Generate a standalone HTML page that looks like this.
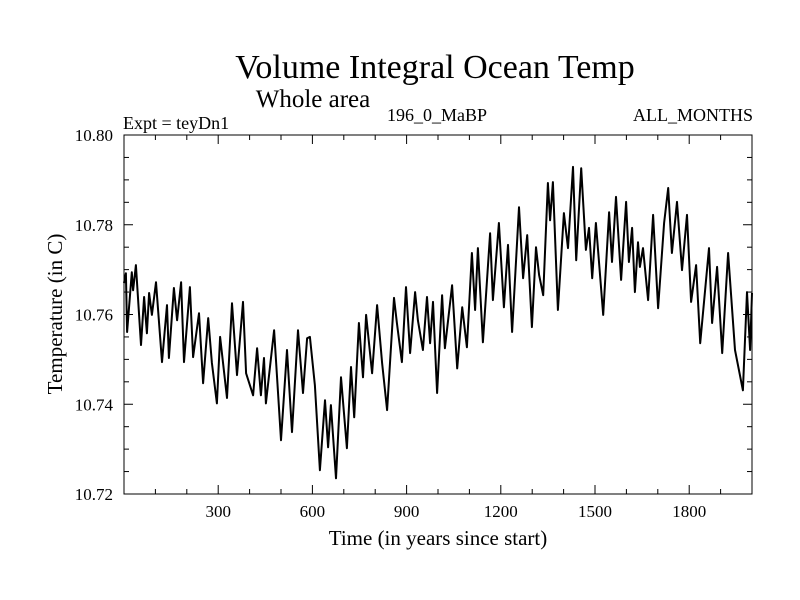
<!DOCTYPE html>
<html><head><meta charset="utf-8"><style>
body{margin:0;background:#fff}
svg{display:block;font-family:"Liberation Serif",serif}
</style></head><body>
<svg id="chart" width="800" height="600" viewBox="0 0 800 600" xmlns="http://www.w3.org/2000/svg">
<rect width="800" height="600" fill="#fff"/>
<text x="435" y="78" font-size="34" text-anchor="middle">Volume Integral Ocean Temp</text>
<text x="313" y="107" font-size="25" text-anchor="middle">Whole area</text>
<text x="123" y="129" font-size="18">Expt = teyDn1</text>
<text x="437" y="121" font-size="18" text-anchor="middle">196_0_MaBP</text>
<text x="753" y="121" font-size="18" text-anchor="end">ALL_MONTHS</text>
<text x="438" y="545" font-size="21" text-anchor="middle">Time (in years since start)</text>
<text transform="translate(62,314) rotate(-90)" font-size="21" text-anchor="middle">Temperature (in C)</text>
<g id="axes"></g>
<path id="series" fill="none" stroke="#000" stroke-width="2" stroke-linejoin="round"/>
<rect x="124" y="135" width="628" height="359" fill="none" stroke="#000" stroke-width="1"/>
</svg>
<script>
const years=[0,6,10,25,29,38,54,64,73,80,89,102,121,137,143,159,169,182,191,210,220,239,252,268,280,296,306,328,344,360,379,389,411,424,436,446,452,478,500,519,535,554,570,583,592,608,624,640,650,659,675,691,710,723,733,748,761,771,790,806,822,838,860,869,885,898,911,927,936,952,965,975,984,997,1013,1022,1045,1061,1077,1092,1108,1118,1127,1143,1166,1175,1194,1210,1223,1236,1258,1271,1284,1299,1312,1322,1335,1350,1357,1366,1382,1401,1414,1430,1440,1456,1471,1481,1491,1503,1526,1545,1554,1567,1583,1599,1608,1618,1627,1637,1643,1653,1669,1685,1701,1720,1733,1745,1761,1777,1793,1806,1822,1835,1863,1873,1889,1905,1924,1946,1971,1984,1994,2000];
const temps=[10.767,10.7692,10.7561,10.7694,10.7654,10.771,10.7532,10.7639,10.7558,10.7648,10.7599,10.7672,10.7494,10.7621,10.7503,10.7659,10.7587,10.7672,10.7494,10.7661,10.7505,10.7603,10.7447,10.7592,10.7492,10.7402,10.755,10.7414,10.7625,10.7465,10.7628,10.7469,10.742,10.7525,10.742,10.7503,10.7402,10.7565,10.732,10.7521,10.7338,10.7565,10.7425,10.7547,10.755,10.7442,10.7253,10.7409,10.7304,10.7398,10.7235,10.746,10.7302,10.7483,10.7371,10.7581,10.746,10.7599,10.7469,10.7621,10.7492,10.7387,10.7637,10.7581,10.7494,10.7661,10.7514,10.765,10.7587,10.7521,10.7639,10.7536,10.7628,10.7425,10.7643,10.7525,10.7665,10.748,10.7616,10.7527,10.7737,10.761,10.7748,10.7538,10.7781,10.7632,10.7804,10.7616,10.7755,10.7561,10.7839,10.7681,10.7777,10.7572,10.775,10.7688,10.7643,10.7893,10.781,10.7895,10.761,10.7826,10.7748,10.7929,10.7721,10.7926,10.7744,10.7793,10.7681,10.7804,10.7599,10.7828,10.7717,10.7862,10.7677,10.7851,10.7717,10.7793,10.765,10.7761,10.7706,10.7748,10.7632,10.7822,10.7614,10.7804,10.7882,10.7737,10.7851,10.7699,10.7822,10.7628,10.771,10.7536,10.7748,10.7581,10.7706,10.7514,10.7737,10.7521,10.7431,10.765,10.7521,10.7648];
const xTickLabels=[300,600,900,1200,1500,1800];
const yTickLabels=["10.72","10.74","10.76","10.78","10.80"];
const X0=124,X1=752,Y0=494,Y1=135,XMIN=0,XMAX=2000,YMIN=10.72,YMAX=10.80;
function xs(v){return X0+(v-XMIN)/(XMAX-XMIN)*(X1-X0);}
function ys(v){return Y0-(v-YMIN)/(YMAX-YMIN)*(Y0-Y1);}
const NS="http://www.w3.org/2000/svg";
const axes=document.getElementById('axes');
function line(x1,y1,x2,y2,name){const l=document.createElementNS(NS,'line');
l.setAttribute('x1',x1);l.setAttribute('y1',y1);l.setAttribute('x2',x2);l.setAttribute('y2',y2);
l.setAttribute('stroke','#000');l.setAttribute('stroke-width','1');


axes.appendChild(l);}
function text(x,y,s,anchor,name){const t=document.createElementNS(NS,'text');
t.setAttribute('x',x);t.setAttribute('y',y);t.setAttribute('font-size','17');t.setAttribute('text-anchor',anchor);t.textContent=s;


axes.appendChild(t);}
for(let v=100;v<XMAX;v+=100){const x=xs(v);const L=(v%300===0)?9:5;
line(x,Y0,x,Y0-L,'x-tick');line(x,Y1,x,Y1+L,'x-tick-top');}
xTickLabels.forEach(v=>text(xs(v),517,String(v),'middle','x-tick-label'));
for(let i=1;i<16;i++){const v=YMIN+i*0.005;const y=ys(v);const L=(i%4===0)?9:5;
line(X0,y,X0+L,y,'y-tick');line(X1,y,X1-L,y,'y-tick-right');}
yTickLabels.forEach(s=>text(113,ys(parseFloat(s))+6,s,'end','y-tick-label'));
let d='';years.forEach((yr,i)=>{d+=(i?'L':'M')+xs(yr).toFixed(1)+','+ys(temps[i]).toFixed(1);});
document.getElementById('series').setAttribute('d',d);
</script>
</body></html>
